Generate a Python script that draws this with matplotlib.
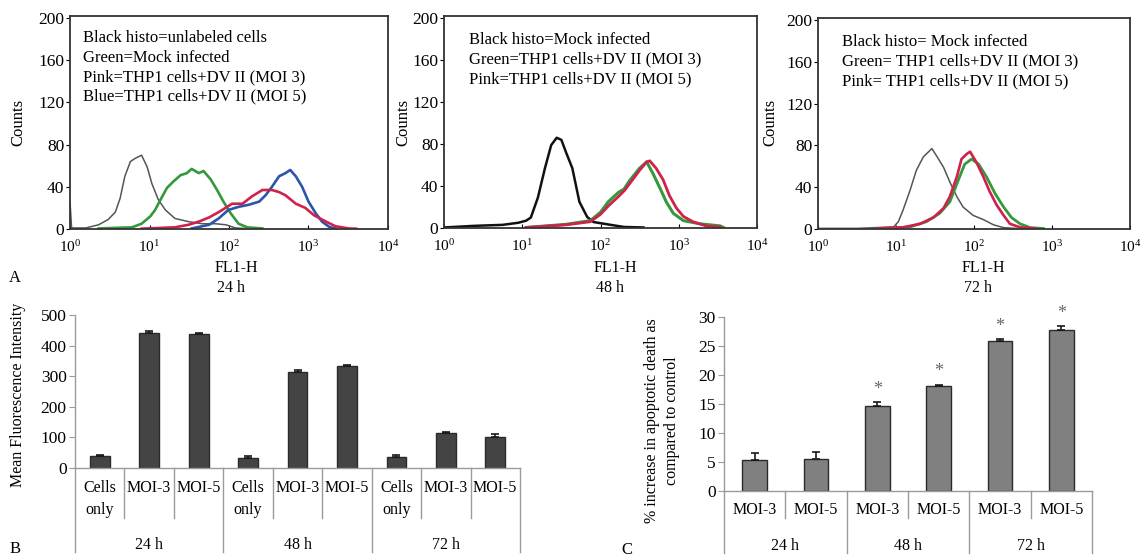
import matplotlib.pyplot as plt
import matplotlib.transforms as mtransforms
import numpy as np

plt.rcParams['font.family'] = ['Liberation Serif', 'DejaVu Serif']
plt.rcParams['mathtext.fontset'] = 'stix'

# ---------------- data ----------------
# histograms: position in decades of FL1-H (log10) and counts
black1_log = [0.0, 0.02, 0.2, 0.36, 0.48, 0.57, 0.63, 0.69, 0.76, 0.82, 0.90, 0.97, 1.03, 1.11, 1.20, 1.32, 1.49, 1.66, 1.83, 1.96, 2.08, 2.20]
black1_cnt = [26, 1, 1, 4, 9, 16, 29, 50, 64, 67, 70, 59, 43, 28, 18, 10, 7, 5, 5, 4, 1, 0.5]
green1_log = [0.36, 0.78, 0.90, 1.01, 1.07, 1.14, 1.22, 1.30, 1.39, 1.47, 1.53, 1.62, 1.68, 1.77, 1.85, 1.93, 2.02, 2.12, 2.23, 2.42]
green1_cnt = [0.5, 1.6, 5, 12, 18, 28, 39, 45, 51, 53, 57, 53, 55, 47, 37, 26, 15, 5, 1.6, 0.5]
red1_log = [0.90, 1.32, 1.49, 1.62, 1.75, 1.87, 2.04, 2.17, 2.29, 2.42, 2.54, 2.63, 2.71, 2.84, 2.96, 3.07, 3.22, 3.34, 3.51, 3.60]
red1_cnt = [0.3, 1.6, 4, 7, 11, 16, 24, 24, 31, 37, 37, 35, 32, 24, 20, 13, 7, 2.6, 0.5, 0.3]
blue1_log = [1.53, 1.75, 1.87, 1.99, 2.12, 2.25, 2.38, 2.46, 2.54, 2.63, 2.71, 2.77, 2.84, 2.92, 3.00, 3.09, 3.17, 3.26, 3.34]
blue1_cnt = [0.5, 4, 10, 18, 21, 23, 26, 32, 40, 50, 53, 56, 50, 40, 26, 15, 7, 2, 0.5]

black2_log = [0.0, 0.37, 0.75, 0.95, 1.05, 1.11, 1.20, 1.29, 1.37, 1.44, 1.50, 1.56, 1.64, 1.73, 1.83, 1.91, 2.13, 2.30, 2.55]
black2_cnt = [0.5, 2, 3, 5, 7, 10, 29, 57, 79, 86, 84, 72, 57, 25, 10.5, 5.7, 3, 1, 0.5]
green2_log = [1.05, 1.56, 1.87, 2.00, 2.10, 2.23, 2.30, 2.37, 2.50, 2.59, 2.67, 2.76, 2.84, 2.93, 3.06, 3.27, 3.53, 3.57]
green2_cnt = [0.5, 3.5, 7, 15, 25, 34, 37, 45, 57, 63, 52, 38, 25, 14, 7, 4, 2, 0.5]
red2_log = [1.05, 1.56, 1.87, 2.00, 2.10, 2.23, 2.31, 2.39, 2.50, 2.59, 2.63, 2.71, 2.80, 2.88, 2.97, 3.06, 3.18, 3.35, 3.53]
red2_cnt = [0.5, 3, 6, 13, 21, 30, 36, 44, 55, 63, 64, 57, 46, 31, 19, 11, 6, 2, 1]

black3_log = [0.0, 0.5, 0.97, 1.03, 1.09, 1.18, 1.26, 1.35, 1.46, 1.52, 1.61, 1.69, 1.78, 1.86, 1.99, 2.12, 2.25, 2.38, 2.55]
black3_cnt = [0.6, 0.6, 2, 7, 18, 37, 56, 69, 77, 70, 59, 45, 31, 21, 13, 9, 4, 1.3, 0.5]
green3_log = [0.88, 1.18, 1.39, 1.56, 1.69, 1.80, 1.88, 1.97, 2.06, 2.16, 2.27, 2.38, 2.48, 2.59, 2.72, 2.89]
green3_cnt = [0.5, 2, 7, 15, 26, 47, 62, 67, 62, 50, 34, 21, 11, 5, 1.3, 0.5]
red3_log = [0.75, 1.09, 1.31, 1.48, 1.61, 1.69, 1.78, 1.84, 1.91, 1.95, 2.03, 2.12, 2.20, 2.29, 2.38, 2.46, 2.59, 2.80]
red3_cnt = [0.5, 1.6, 5, 11, 20, 31, 50, 67, 72, 74, 64, 50, 36, 23, 13, 5, 1.6, 0.5]

legend1 = ['Black histo=unlabeled cells', 'Green=Mock infected',
           'Pink=THP1 cells+DV II (MOI 3)', 'Blue=THP1 cells+DV II (MOI 5)']
legend2 = ['Black histo=Mock infected', 'Green=THP1 cells+DV II (MOI 3)',
           'Pink=THP1 cells+DV II (MOI 5)']
legend3 = ['Black histo= Mock infected', 'Green= THP1 cells+DV II (MOI 3)',
           'Pink= THP1 cells+DV II (MOI 5)']

# panel B: mean fluorescence intensity
b_labels = ['Cells\nonly', 'MOI-3', 'MOI-5'] * 3
b_groups = ['24 h', '48 h', '72 h']
b_values = [40, 440, 438, 33, 315, 333, 37, 113, 100]
b_errors = [3, 7, 3, 5, 5, 5, 5, 5, 10]

# panel C: % increase in apoptotic death
c_labels = ['MOI-3', 'MOI-5'] * 3
c_groups = ['24 h', '48 h', '72 h']
c_values = [5.4, 5.6, 14.7, 18.1, 25.9, 27.7]
c_errors = [1.15, 1.1, 0.6, 0.25, 0.35, 0.7]
c_star = [False, False, True, True, True, True]

# ---------------- layout helpers ----------------
W, H = 1141, 557
fig = plt.figure(figsize=(W / 100, H / 100), dpi=100)


def box(l, t, r, b):
    return [l / W, 1 - b / H, (r - l) / W, (b - t) / H]


def ftext(x, y, s, **kw):
    kw.setdefault('ha', 'center')
    kw.setdefault('va', 'center')
    return fig.text(x / W, 1 - y / H, s, **kw)


GREEN = '#33993a'
RED = '#d0204c'
BLUE = '#2a55aa'


def hist_panel(rect, curves, legend, leg_xy, xlab_x, hours, counts_x):
    ax = fig.add_axes(box(*rect))
    for lg, cnt, col, lw in curves:
        ax.plot(np.power(10.0, lg), cnt, color=col, lw=lw)
    ax.set_xscale('log')
    ax.set_xlim(1, 1e4)
    ax.set_ylim(0, 202)
    ax.set_xticks([1, 10, 100, 1000, 10000])
    ax.minorticks_off()
    ax.set_yticks([0, 40, 80, 120, 160, 200])
    ax.tick_params(axis='x', direction='in', length=3, labelsize=11, pad=7)
    ax.tick_params(axis='y', direction='out', length=3, labelsize=12.5, pad=1)
    for s in ax.spines.values():
        s.set_color('#333333')
        s.set_linewidth(1.3)
    lx, ly = leg_xy
    for i, line in enumerate(legend):
        ftext(lx, ly + i * 19.5, line, ha='left', fontsize=12)
    ftext(xlab_x, 268, 'FL1-H', fontsize=11.5)
    ftext(xlab_x - 5, 288, hours, fontsize=11.5)
    ftext(counts_x, 122, 'Counts', rotation=90, fontsize=12)
    return ax


hist_panel((70, 16, 388, 229),
           [(black1_log, black1_cnt, '#555555', 1.1),
            (green1_log, green1_cnt, GREEN, 1.9),
            (blue1_log, blue1_cnt, BLUE, 1.9),
            (red1_log, red1_cnt, RED, 1.9)],
           legend1, (83, 38), 236, '24 h', 18)
hist_panel((444, 16, 757, 228),
           [(black2_log, black2_cnt, '#111111', 1.8),
            (green2_log, green2_cnt, GREEN, 2.2),
            (red2_log, red2_cnt, RED, 2.0)],
           legend2, (469, 40), 615, '48 h', 403)
hist_panel((818, 18, 1130, 229),
           [(black3_log, black3_cnt, '#555555', 1.1),
            (green3_log, green3_cnt, GREEN, 2.0),
            (red3_log, red3_cnt, RED, 1.9)],
           legend3, (842, 42), 983, '72 h', 770)

ftext(15, 278, 'A', fontsize=12)


def bar_panel(rect, labels, groups, values, errors, color, yticks, ymax,
              cat_depth, grp_depth, lab_y, grp_y, ylabel, ylab_x, ylab_y):
    l, t, r, b = rect
    ax = fig.add_axes(box(*rect))
    x = np.arange(len(values))
    ax.bar(x, values, width=0.4, color=color, edgecolor='#2b2b2b', linewidth=1.0,
           yerr=[np.zeros(len(errors)), errors], capsize=3,
           error_kw=dict(ecolor='#1a1a1a', elinewidth=1.2, capthick=1.2))
    ax.set_xlim(-0.5, len(values) - 0.5)
    ax.set_ylim(0, ymax)
    ax.set_yticks(yticks)
    ax.set_xticks([])
    for s in ('top', 'right'):
        ax.spines[s].set_visible(False)
    for s in ('left', 'bottom'):
        ax.spines[s].set_color('#9a9a9a')
        ax.spines[s].set_linewidth(1.0)
    ax.tick_params(axis='y', direction='out', length=4, color='#9a9a9a',
                   labelsize=12.5, pad=2)
    hgt = b - t
    trans = mtransforms.blended_transform_factory(ax.transData, ax.transAxes)
    per = len(values) // len(groups)
    # category and group dividers below the axis
    for i in range(len(values) + 1):
        depth = grp_depth if i % per == 0 else cat_depth
        ax.plot([i - 0.5, i - 0.5], [0, -depth / hgt], color='#9a9a9a', lw=1.0,
                transform=trans, clip_on=False)
    for i, lab in enumerate(labels):
        yy = lab_y + (11 if '\n' in lab else 0)
        ax.text(i, -(yy - b) / hgt, lab, transform=trans, ha='center',
                va='center', fontsize=11.5, linespacing=1.5)
    for g, name in enumerate(groups):
        ax.text(g * per + (per - 1) / 2, -(grp_y - b) / hgt, name, transform=trans,
                ha='center', va='center', fontsize=11.5)
    ftext(ylab_x, ylab_y, ylabel, rotation=90, fontsize=11.5, linespacing=1.3)
    return ax


bar_panel((75, 315, 520, 468), b_labels, b_groups, b_values, b_errors, '#444444',
          [0, 100, 200, 300, 400, 500], 500, 50, 84, 488, 545,
          'Mean Fluorescence Intensity', 18, 395)
ftext(15, 549, 'B', fontsize=12)

axc = bar_panel((724, 317, 1092, 491), c_labels, c_groups, c_values, c_errors, '#808080',
                [0, 5, 10, 15, 20, 25, 30], 30, 27, 62, 510, 546,
                '% increase in apoptotic death as\ncompared to control', 662, 421)
for i, star in enumerate(c_star):
    if star:
        axc.annotate('*', (i, c_values[i] + c_errors[i]), xytext=(0, 3),
                     textcoords='offset points', ha='center', va='bottom',
                     fontsize=13, color='#666666')
ftext(627, 550, 'C', fontsize=12)

fig.savefig('out.png', dpi=100)
